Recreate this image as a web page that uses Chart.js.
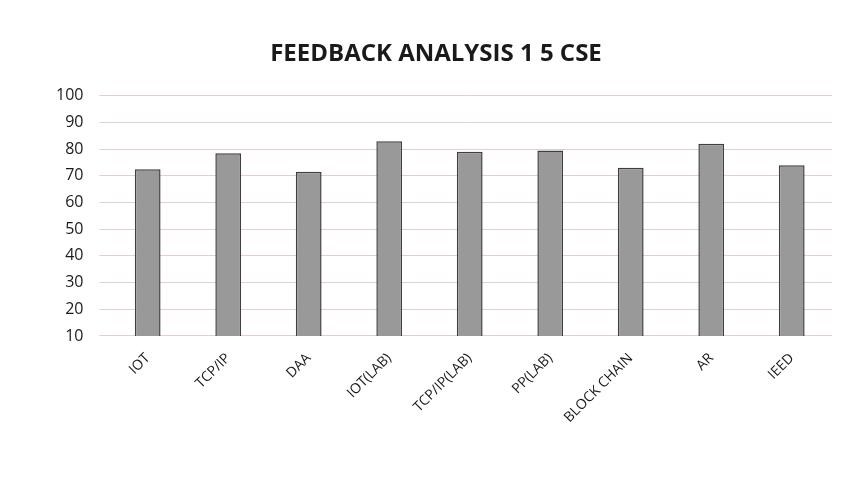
<!DOCTYPE html>
<html>
<head>
<meta charset="utf-8">
<script src="https://cdn.jsdelivr.net/npm/chart.js@4"></script>
<style>
  html, body { margin: 0; padding: 0; background: #ffffff; }
  #wrap { width: 866px; height: 477px; }
</style>
</head>
<body>
<div id="wrap"><canvas id="feedbackChart" width="866" height="477"></canvas></div>
<script>
const subjects = ["IOT", "TCP/IP", "DAA", "IOT(LAB)", "TCP/IP(LAB)", "PP(LAB)", "BLOCK CHAIN", "AR", "IEED"];
const scores = [72.5, 78.5, 71.5, 83, 79, 79.5, 73, 82, 74];
const yMin = 10;
const yMax = 100;
const yStep = 10;

const ctx = document.getElementById("feedbackChart").getContext('2d');
const feedbackChart = new Chart(ctx, {
    type: 'bar',
    data: {
        labels: subjects,
        datasets: [
            {
                label: "Feedback",
                data: scores,
                backgroundColor: "#999999",
                borderColor: "#3f3f3f",
                borderWidth: 1.5,
                barPercentage: 0.32,
                categoryPercentage: 1
            }
        ]
    },
    options: {
        responsive: false,
        animation: false,
        layout: {
            padding: { left: 40, right: 34, top: 20, bottom: 45 }
        },
        plugins: {
            legend: { display: false },
            tooltip: { enabled: false },
            title: {
                display: true,
                text: "FEEDBACK ANALYSIS 1 5 CSE",
                color: "#1a1a1a",
                font: { family: "Open Sans", size: 24, weight: 'bold' },
                padding: { top: 20, bottom: 27 }
            }
        },
        scales: {
            x: {
                grid: { display: false },
                border: { display: false },
                ticks: {
                    color: "#1a1a1a",
                    font: { family: "Open Sans", size: 14 },
                    minRotation: 45,
                    maxRotation: 45,
                    padding: 6
                }
            },
            y: {
                min: yMin,
                max: yMax,
                grid: { color: "#e3cfcf", lineWidth: 1 },
                border: { display: false },
                ticks: {
                    stepSize: yStep,
                    color: "#1a1a1a",
                    font: { family: "Open Sans", size: 16 },
                    padding: 16
                }
            }
        }
    }
});
</script>
</body>
</html>
